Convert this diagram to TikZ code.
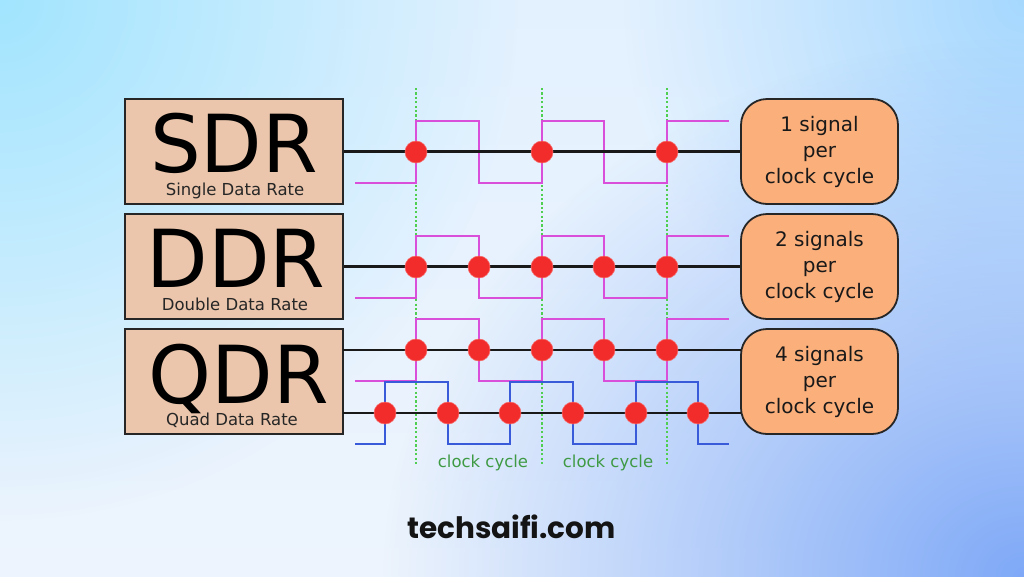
\documentclass[tikz,border=0pt]{standalone}
\usepackage{fontspec}
\setmainfont{DejaVu Sans}
\newfontfamily\popfont{Poppins}
\usetikzlibrary{fadings}
\definecolor{bgbase}{HTML}{EDF4FD}
\definecolor{bgtop}{HTML}{E3F1FE}
\definecolor{glowcyan}{HTML}{A2E5FE}
\definecolor{glowtr}{HTML}{A6D8FE}
\definecolor{glowblue}{HTML}{7FA9F7}
\definecolor{boxtan}{HTML}{EBC6AC}
\definecolor{boxorange}{HTML}{FBB07C}
\definecolor{sigmag}{HTML}{DA4FDA}
\definecolor{sigblue}{HTML}{3A5BD9}
\definecolor{dotred}{HTML}{F22B2B}
\definecolor{clkgreen}{HTML}{4FCF4F}
\definecolor{lblgreen}{HTML}{3F9A44}
\tikzfading[name=glowfade, inner color=transparent!0, outer color=transparent!100]
\tikzset{
  ratebox/.style={draw=black!85, line width=1.8pt, fill=boxtan, minimum width=218pt, minimum height=105pt, inner sep=0pt},
  infobox/.style={draw=black!85, line width=1.8pt, fill=boxorange, rounded corners=26pt, minimum width=157pt, minimum height=105pt, inner sep=0pt, align=center, font=\fontsize{20}{26}\selectfont, text=black!90},
  bigtxt/.style={anchor=base, font=\fontsize{80}{90}\selectfont, inner sep=0pt},
  subtxt/.style={anchor=base, font=\fontsize{16.5}{18}\selectfont, inner sep=0pt, text=black!85},
  dataline/.style={line width=2.4pt, draw=black!90},
  sigM/.style={line width=1.5pt, draw=sigmag},
  sigB/.style={line width=1.5pt, draw=sigblue},
  clk/.style={line width=1.1pt, draw=clkgreen, dash pattern=on 2.2pt off 2.2pt},
  datadot/.style={circle, fill=dotred, draw=dotred!70!white, line width=0.6pt, minimum size=22pt, inner sep=0pt},
  cyclbl/.style={anchor=base, font=\fontsize{16.5}{18}\selectfont, text=lblgreen, inner sep=0pt}
}
\begin{document}
\begin{tikzpicture}[x=1pt,y=-1pt]
\useasboundingbox (0,0) rectangle (1024,576);
% background
\begin{scope}
\clip (0,0) rectangle (1024,576);
\shade[top color=bgtop, bottom color=bgbase] (0,0) rectangle (1024,576);
\fill[glowcyan, path fading=glowfade] (0,0) circle [radius=520];
\fill[glowtr, path fading=glowfade] (1024,0) circle [radius=400];
\fill[glowblue, path fading=glowfade] (1024,576) ellipse [x radius=640, y radius=540];
\end{scope}
% clock lines
\foreach \x [count=\i] in {416,542,667} {
  \coordinate (ct\i) at (\x,88);
  \coordinate (cb\i) at (\x,466);
  \draw[clk] (ct\i) -- (cb\i);
}
% boxes
\node[ratebox] (sdr) at (234,151.5) {};
\node[ratebox] (ddr) at (234,266.5) {};
\node[ratebox] (qdr) at (234,381.5) {};
\node[bigtxt] (sdrt) at (234,172) {SDR};
\node[bigtxt] (ddrt) at (236,287) {DDR};
\node[bigtxt] (qdrt) at (239,403) {QDR};
\node[subtxt] (sdrs) at (235,195.5) {Single Data Rate};
\node[subtxt] (ddrs) at (235,310.5) {Double Data Rate};
\node[subtxt] (qdrs) at (232,425.5) {Quad Data Rate};
\node[infobox] (r1) at (819.5,151.5) {1 signal\\per\\clock cycle};
\node[infobox] (r2) at (819.5,266.5) {2 signals\\per\\clock cycle};
\node[infobox] (r3) at (819.5,381.5) {4 signals\\per\\clock cycle};
% waveforms
\draw[sigM] (355,183) -- (416,183) -- (416,121) -- (479,121) -- (479,183) -- (542,183) -- (542,121) -- (604,121) -- (604,183) -- (667,183) -- (667,121) -- (729,121);
\draw[sigM] (355,298) -- (416,298) -- (416,236) -- (479,236) -- (479,298) -- (542,298) -- (542,236) -- (604,236) -- (604,298) -- (667,298) -- (667,236) -- (729,236);
\draw[sigM] (355,381) -- (416,381) -- (416,319) -- (479,319) -- (479,381) -- (542,381) -- (542,319) -- (604,319) -- (604,381) -- (667,381) -- (667,319) -- (729,319);
\draw[sigB] (355,444) -- (385,444) -- (385,382) -- (448,382) -- (448,444) -- (510,444) -- (510,382) -- (573,382) -- (573,444) -- (636,444) -- (636,382) -- (698,382) -- (698,444) -- (729,444);
% data lines
\coordinate (q1s) at (343,350);
\coordinate (q1e) at (741,350);
\coordinate (q2s) at (343,413);
\coordinate (q2e) at (741,413);
\draw[dataline] (sdr.east) -- (r1.west);
\draw[dataline] (ddr.east) -- (r2.west);
\draw[dataline] (q1s) -- (q1e);
\draw[dataline] (q2s) -- (q2e);
% dots
\foreach \x [count=\i] in {416,542,667} { \node[datadot] (s\i) at (\x,152) {}; }
\foreach \x [count=\i] in {416,479,542,604,667} { \node[datadot] (d\i) at (\x,267) {}; }
\foreach \x [count=\i] in {416,479,542,604,667} { \node[datadot] (qa\i) at (\x,350) {}; }
\foreach \x [count=\i] in {385,448,510,573,636,698} { \node[datadot] (qb\i) at (\x,413) {}; }
% labels
\node[cyclbl] (cc1) at (483,467) {clock cycle};
\node[cyclbl] (cc2) at (608,467) {clock cycle};
\node[anchor=base, inner sep=0pt, font=\popfont\bfseries\fontsize{29.5}{32}\selectfont, text=black!92] (site) at (511.5,538) {techsaifi.com};
\end{tikzpicture}
\end{document}
